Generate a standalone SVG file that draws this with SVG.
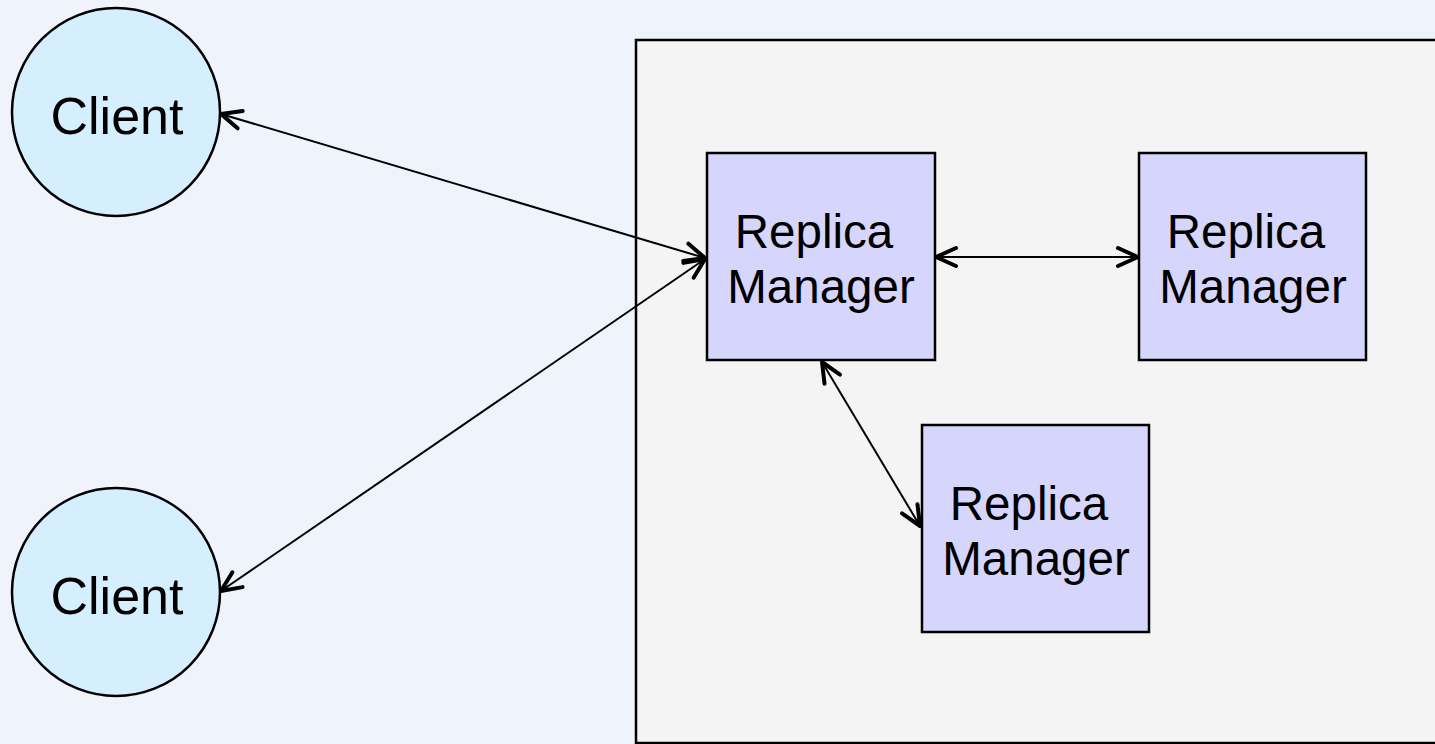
<svg xmlns="http://www.w3.org/2000/svg" width="1435" height="744" viewBox="0 0 1435 744">
  <style>
    .client { fill: #d5efff; stroke: #000; stroke-width: 2.5; }
    .rm { fill: #d6d6fc; stroke: #000; stroke-width: 2.5; }
    .label { font-family: "Liberation Sans", Arial, sans-serif; fill: #000; text-anchor: middle; }
    .client-text { font-size: 52px; }
    .rm-text { font-size: 47.5px; }
    .link { fill: none; stroke: #000; stroke-width: 2; marker-start: url(#head); marker-end: url(#head); }
  </style>
  <defs>
    <marker id="head" markerUnits="userSpaceOnUse" viewBox="-24 -14 28 28" refX="0" refY="0" markerWidth="28" markerHeight="28" orient="auto-start-reverse">
      <path d="M -20 -9 L 0 0 L -20 9" fill="none" stroke="#000" stroke-width="4" stroke-linecap="round" stroke-linejoin="round"/>
    </marker>
  </defs>

  <!-- page background -->
  <rect x="0" y="0" width="1435" height="744" fill="#eff4fc"/>

  <!-- server group container -->
  <g id="server-group">
    <rect x="636" y="40" width="820" height="703" fill="#f4f4f4" stroke="#000" stroke-width="2.5"/>
  </g>

  <!-- connectors -->
  <g id="connectors">
    <line class="link" x1="221" y1="114" x2="705" y2="258"/>
    <line class="link" x1="221" y1="591" x2="705" y2="259"/>
    <line class="link" x1="936" y1="257" x2="1138" y2="257"/>
    <line class="link" x1="822" y1="362" x2="920" y2="526"/>
  </g>

  <g id="client-1">
    <circle class="client" cx="116" cy="112" r="104"/>
    <text class="label client-text" x="117" y="134">Client</text>
  </g>

  <g id="client-2">
    <circle class="client" cx="116" cy="592" r="104"/>
    <text class="label client-text" x="117" y="614">Client</text>
  </g>

  <g id="replica-manager-1">
    <rect class="rm" x="707" y="153" width="228" height="207"/>
    <text class="label rm-text" x="814" y="248">Replica</text>
    <text class="label rm-text" x="821" y="303">Manager</text>
  </g>

  <g id="replica-manager-2">
    <rect class="rm" x="1139" y="153" width="227" height="207"/>
    <text class="label rm-text" x="1246" y="248">Replica</text>
    <text class="label rm-text" x="1253" y="303">Manager</text>
  </g>

  <g id="replica-manager-3">
    <rect class="rm" x="922" y="425" width="227" height="207"/>
    <text class="label rm-text" x="1029" y="520">Replica</text>
    <text class="label rm-text" x="1036" y="575">Manager</text>
  </g>
</svg>
